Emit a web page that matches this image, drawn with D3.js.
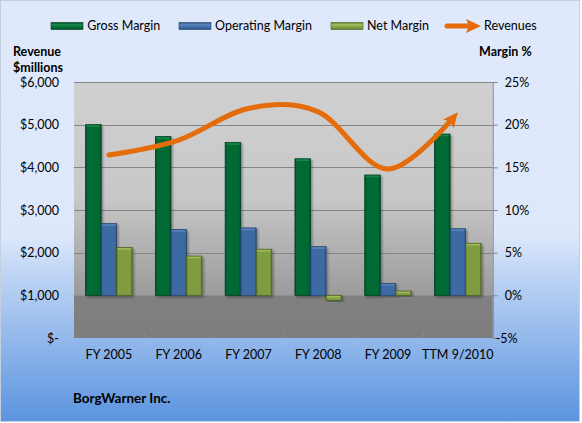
<!DOCTYPE html>
<html>
<head>
<meta charset="utf-8">
<script src="https://cdn.jsdelivr.net/npm/d3@7"></script>
<style>
  html, body { margin: 0; padding: 0; background: #ffffff; }
  svg { display: block; font-family: Lato, "Liberation Sans", sans-serif; }
</style>
</head>
<body>
<svg id="chart" width="582" height="423"></svg>
<script>
// ---------- data ----------
const categories = ["FY 2005", "FY 2006", "FY 2007", "FY 2008", "FY 2009", "TTM 9/2010"];
const grossMargin = [20.0, 18.6, 17.9, 16.0, 14.1, 18.9];       // %
const operatingMargin = [8.4, 7.7, 7.9, 5.7, 1.4, 7.8];         // %
const netMargin = [5.6, 4.6, 5.4, -0.6, 0.5, 6.1];              // %
const revenues = [4290, 4640, 5380, 5300, 3960, 5290];          // $ millions
const seriesNames = ["Gross Margin", "Operating Margin", "Net Margin"];
const lineName = "Revenues";
const revenueTicks = [0, 1000, 2000, 3000, 4000, 5000, 6000];
const revenueTickLabels = ["$-", "$1,000", "$2,000", "$3,000", "$4,000", "$5,000", "$6,000"];
const marginTicks = [-5, 0, 5, 10, 15, 20, 25];
const marginTickLabels = ["-5%", "0%", "5%", "10%", "15%", "20%", "25%"];
const chartTitle = "BorgWarner Inc.";

// ---------- layout ----------
const svg = d3.select("#chart");
const W = 582, H = 423;
const plot = { left: 74, right: 492.7, top: 82, bottom: 338 };

const seriesValues = [grossMargin, operatingMargin, netMargin];
const seriesStyle = [
  { base: "#006b35", edge: "#004a24", light: "#1a8a4c", stroke: "#003d1d" },
  { base: "#3d6ba3", edge: "#2b5284", light: "#5a86bd", stroke: "#24456e" },
  { base: "#809c40", edge: "#627a2e", light: "#a3bf5a", stroke: "#4d6023" }
];
const orange = "#e46c0a";

const defs = svg.append("defs");

// chart background gradient
const bg = defs.append("linearGradient").attr("id", "bgGrad").attr("x1", 0).attr("y1", 0).attr("x2", 0).attr("y2", 1);
[[0, "#dfe9fb"], [0.56, "#dde8fa"], [0.62, "#c7daf6"], [1, "#5b94df"]].forEach(([o, c]) =>
  bg.append("stop").attr("offset", o).attr("stop-color", c));

// plot background gradient
const zeroFrac = 0.833;
const pg = defs.append("linearGradient").attr("id", "plotGrad").attr("x1", 0).attr("y1", 0).attr("x2", 0).attr("y2", 1);
[[0, "#d0d0d0"], [0.45, "#c8c8c8"], [zeroFrac, "#9b9b9b"], [zeroFrac + 0.001, "#808080"], [1, "#7e7e7e"]].forEach(([o, c]) =>
  pg.append("stop").attr("offset", o).attr("stop-color", c));

// bar gradients
seriesStyle.forEach((s, i) => {
  const g = defs.append("linearGradient").attr("id", "barGrad" + i).attr("x1", 0).attr("y1", 0).attr("x2", 1).attr("y2", 0);
  [[0, s.edge], [0.12, s.base], [0.88, s.base], [1, s.edge]].forEach(([o, c]) =>
    g.append("stop").attr("offset", o).attr("stop-color", c));
  const gv = defs.append("linearGradient").attr("id", "legGrad" + i).attr("x1", 0).attr("y1", 0).attr("x2", 0).attr("y2", 1);
  [[0, s.edge], [0.3, s.light], [0.7, s.base], [1, s.edge]].forEach(([o, c]) =>
    gv.append("stop").attr("offset", o).attr("stop-color", c));
});

// shadow filter
const f = defs.append("filter").attr("id", "shadow").attr("x", "-30%").attr("y", "-10%").attr("width", "160%").attr("height", "130%");
f.append("feDropShadow").attr("dx", 1.5).attr("dy", 1.5).attr("stdDeviation", 1.2)
  .attr("flood-color", "#000").attr("flood-opacity", 0.35);

// arrow marker
defs.append("marker").attr("id", "arrow")
  .attr("viewBox", "0 0 15 14").attr("refX", 15).attr("refY", 7)
  .attr("markerWidth", 15).attr("markerHeight", 14)
  .attr("markerUnits", "userSpaceOnUse").attr("orient", "auto")
  .append("path").attr("d", "M0,0 L15,7 L0,14 L3,7 Z").attr("fill", orange);

// background
svg.append("rect").attr("x", 0.5).attr("y", 0.5).attr("width", W - 3).attr("height", H - 2)
  .attr("fill", "url(#bgGrad)").attr("stroke", "#c3cfdf").attr("stroke-width", 1);

// scales
const yL = d3.scaleLinear().domain([0, 6000]).range([plot.bottom, plot.top]);
const yR = d3.scaleLinear().domain([-5, 25]).range([plot.bottom, plot.top]);
const x = d3.scaleBand().domain(categories).range([plot.left, plot.right]).paddingInner(0).paddingOuter(0);
const xs = d3.scaleBand().domain(seriesNames).range([0, x.bandwidth()]).paddingInner(0).paddingOuter(0.75);

// plot area
svg.append("rect").attr("x", plot.left).attr("y", plot.top)
  .attr("width", plot.right - plot.left).attr("height", plot.bottom - plot.top)
  .attr("fill", "url(#plotGrad)");

// gridlines
svg.append("g").selectAll("line").data(marginTicks.filter(t => t > -5)).join("line")
  .attr("x1", plot.left).attr("x2", plot.right)
  .attr("y1", d => Math.round(yR(d)) + 0.5).attr("y2", d => Math.round(yR(d)) + 0.5)
  .attr("stroke", d => d === 0 ? "#8f8f8f" : "#858585").attr("stroke-width", 1);

// category tick marks (faint)
svg.append("g").selectAll("line").data(categories.slice(1)).join("line")
  .attr("x1", d => Math.round(x(d)) + 0.5).attr("x2", d => Math.round(x(d)) + 0.5)
  .attr("y1", plot.bottom - 5).attr("y2", plot.bottom)
  .attr("stroke", "#8a8a8a").attr("stroke-width", 1);

// bars
const groups = svg.append("g").selectAll("g").data(categories).join("g")
  .attr("transform", d => `translate(${x(d)},0)`);
seriesNames.forEach((name, si) => {
  groups.append("rect")
    .attr("x", xs(name))
    .attr("y", (d, i) => Math.min(yR(seriesValues[si][i]), yR(0)))
    .attr("width", xs.bandwidth())
    .attr("height", (d, i) => Math.abs(yR(seriesValues[si][i]) - yR(0)))
    .attr("fill", `url(#barGrad${si})`)
    .attr("stroke", seriesStyle[si].stroke).attr("stroke-width", 0.8)
    .attr("filter", "url(#shadow)");
  // top bevel highlight
  groups.append("rect")
    .attr("x", xs(name) + 1)
    .attr("y", (d, i) => Math.min(yR(seriesValues[si][i]), yR(0)) + 0.6)
    .attr("width", xs.bandwidth() - 2)
    .attr("height", (d, i) => Math.min(1.6, Math.abs(yR(seriesValues[si][i]) - yR(0)) / 3))
    .attr("fill", seriesStyle[si].light).attr("opacity", 0.9);
});

// revenue line
const line = d3.line()
  .x((d, i) => x(categories[i]) + x.bandwidth() / 2)
  .y(d => yL(d))
  .curve(d3.curveCardinal.tension(0));
const path = svg.append("path").datum(revenues)
  .attr("d", line)
  .attr("fill", "none").attr("stroke", orange).attr("stroke-width", 5)
  .attr("stroke-linecap", "round")
  .attr("marker-end", "url(#arrow)");
const L = path.node().getTotalLength();
path.attr("stroke-dasharray", `${L - 10} ${L + 20}`);

// right axis
const rAxis = svg.append("g").attr("transform", `translate(${plot.right},0)`)
  .call(d3.axisRight(yR).tickValues(marginTicks).tickSize(5).tickPadding(7)
    .tickFormat((d, i) => marginTickLabels[i]));
rAxis.select(".domain").attr("stroke", "#868686").attr("d", `M0.5,${plot.top}V${plot.bottom}`);
rAxis.selectAll(".tick line").attr("stroke", "#868686");
rAxis.selectAll(".tick text").attr("font-family", "Lato, sans-serif").attr("font-size", 12.5).attr("fill", "#000")
  .attr("x", d => d < 0 ? 3 : 12);

// left axis
const lAxis = svg.append("g").attr("transform", `translate(${plot.left},0)`)
  .call(d3.axisLeft(yL).tickValues(revenueTicks).tickSize(0).tickPadding(15)
    .tickFormat((d, i) => revenueTickLabels[i]));
lAxis.select(".domain").remove();
lAxis.selectAll(".tick text").attr("font-family", "Lato, sans-serif").attr("font-size", 12.5).attr("fill", "#000");

// x axis labels
const xAxis = svg.append("g").attr("transform", `translate(0,${plot.bottom})`)
  .call(d3.axisBottom(x).tickSize(0).tickPadding(12));
xAxis.select(".domain").remove();
xAxis.selectAll(".tick text").attr("font-family", "Lato, sans-serif").attr("font-size", 12.5).attr("fill", "#000");

// axis titles
svg.append("text").attr("x", 13).attr("y", 56).text("Revenue")
  .attr("font-size", 12.5).attr("font-weight", "bold");
svg.append("text").attr("x", 13).attr("y", 72).text("$millions")
  .attr("font-size", 12.5).attr("font-weight", "bold");
svg.append("text").attr("x", 479).attr("y", 56).text("Margin %")
  .attr("font-size", 12.5).attr("font-weight", "bold");

// chart title (bottom)
svg.append("text").attr("x", 73).attr("y", 403).text(chartTitle)
  .attr("font-size", 13.5).attr("font-weight", "bold");

// legend
const legendY = 26;
const legendSwatchX = [51, 179, 331];
const legendTextX = [87.3, 215, 367];
seriesNames.forEach((name, i) => {
  svg.append("rect").attr("x", legendSwatchX[i]).attr("y", legendY - 3.5)
    .attr("width", 32).attr("height", 7)
    .attr("fill", `url(#legGrad${i})`).attr("stroke", seriesStyle[i].stroke).attr("stroke-width", 0.6);
  svg.append("text").attr("x", legendTextX[i]).attr("y", legendY).attr("dy", "0.35em")
    .attr("font-size", 12.5).text(name);
});
svg.append("line").attr("x1", 447).attr("x2", 471).attr("y1", legendY).attr("y2", legendY)
  .attr("stroke", orange).attr("stroke-width", 5).attr("stroke-linecap", "round");
svg.append("path").attr("d", `M466,${legendY - 7} L481,${legendY} L466,${legendY + 7} L469,${legendY} Z`).attr("fill", orange);
svg.append("text").attr("x", 484).attr("y", legendY).attr("dy", "0.35em")
  .attr("font-size", 12.5).text(lineName);
</script>
</body>
</html>
